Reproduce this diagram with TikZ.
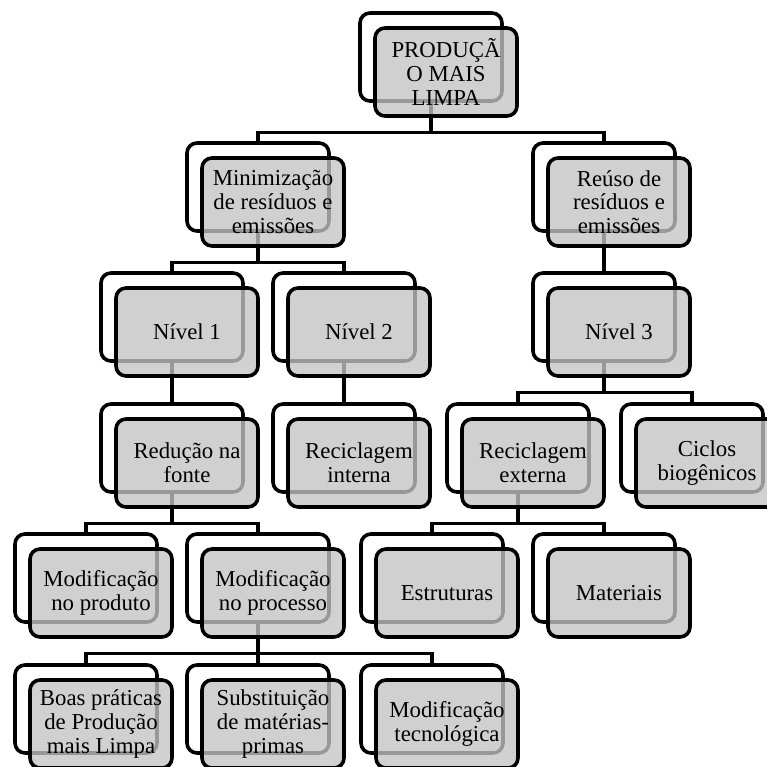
\documentclass[tikz,border=0pt]{standalone}
\usepackage{fontspec}
\setmainfont{Liberation Serif}
\usetikzlibrary{backgrounds}
\definecolor{boxgray}{RGB}{196,196,196}
\begin{document}
\begin{tikzpicture}[x=1pt, y=1pt,
        back/.style={draw, line width=3.6pt, rounded corners=10pt, fill=white,
            minimum width=142pt, minimum height=88pt, inner sep=1pt},
        front/.style={back, fill=boxgray, fill opacity=0.78, text opacity=1,
            align=center, text=black, font=\fontsize{22.8}{23.8}\selectfont},
        link/.style={line width=3.2pt}]
            \useasboundingbox (0, 0) rectangle (766, -767);
            %\draw[lightgray] (0, 0) grid[step=50] (766, -767);

            % level 1
            \node[back] (root-b) at (431, -57) {};
            \node[front] (root) at (446, -72) {PRODUÇÃ\\O MAIS\\LIMPA};

            % level 2
            \node[back] (mini-b) at (258, -187) {};
            \node[front] (mini) at (273, -202) {Minimização\\de resíduos e\\emissões};
            \node[back] (reuso-b) at (604, -187) {};
            \node[front] (reuso) at (619, -202) {Reúso de\\resíduos e\\emissões};

            % level 3
            \node[back] (niv1-b) at (172, -317) {};
            \node[front] (niv1) at (187, -332) {Nível 1};
            \node[back] (niv2-b) at (344, -317) {};
            \node[front] (niv2) at (359, -332) {Nível 2};
            \node[back] (niv3-b) at (604, -317) {};
            \node[front] (niv3) at (619, -332) {Nível 3};

            % level 4
            \node[back] (redu-b) at (172, -448) {};
            \node[front] (redu) at (187, -463) {Redução na\\fonte};
            \node[back] (recint-b) at (344, -448) {};
            \node[front] (recint) at (359, -463) {Reciclagem\\interna};
            \node[back] (recext-b) at (518, -448) {};
            \node[front] (recext) at (533, -463) {Reciclagem\\externa};
            \node[back] (ciclos-b) at (692, -448) {};
            \node[front] (ciclos) at (707, -463) {Ciclos\\biogênicos};

            % level 5
            \node[back] (modprod-b) at (86, -578) {};
            \node[front] (modprod) at (101, -593) {Modificação\\no produto};
            \node[back] (modproc-b) at (258, -578) {};
            \node[front] (modproc) at (273, -593) {Modificação\\no processo};
            \node[back] (estr-b) at (432, -578) {};
            \node[front] (estr) at (447, -593) {Estruturas};
            \node[back] (mat-b) at (604, -578) {};
            \node[front] (mat) at (619, -593) {Materiais};

            % level 6
            \node[back] (boas-b) at (86, -709) {};
            \node[front] (boas) at (101, -724) {Boas práticas\\de Produção\\mais Limpa};
            \node[back] (subst-b) at (258, -709) {};
            \node[front] (subst) at (273, -724) {Substituição\\de matérias-\\primas};
            \node[back] (modtec-b) at (432, -709) {};
            \node[front] (modtec) at (447, -724) {Modificação\\tecnológica};

            % connectors
            \begin{scope}[on background layer]
                \draw[link] (root-b.south) -- ++(0, -30) -| (mini-b.north);
                \draw[link] (root-b.south) -- ++(0, -30) -| (reuso-b.north);
                \draw[link] (mini-b.south) -- ++(0, -30) -| (niv1-b.north);
                \draw[link] (mini-b.south) -- ++(0, -30) -| (niv2-b.north);
                \draw[link] (reuso-b.south) -- (niv3-b.north);
                \draw[link] (niv1-b.south) -- (redu-b.north);
                \draw[link] (niv2-b.south) -- (recint-b.north);
                \draw[link] (niv3-b.south) -- ++(0, -30) -| (recext-b.north);
                \draw[link] (niv3-b.south) -- ++(0, -30) -| (ciclos-b.north);
                \draw[link] (redu-b.south) -- ++(0, -30) -| (modprod-b.north);
                \draw[link] (redu-b.south) -- ++(0, -30) -| (modproc-b.north);
                \draw[link] (recext-b.south) -- ++(0, -30) -| (estr-b.north);
                \draw[link] (recext-b.south) -- ++(0, -30) -| (mat-b.north);
                \draw[link] (modproc-b.south) -- ++(0, -30) -| (boas-b.north);
                \draw[link] (modproc-b.south) -- ++(0, -30) -| (subst-b.north);
                \draw[link] (modproc-b.south) -- ++(0, -30) -| (modtec-b.north);
            \end{scope}
        \end{tikzpicture}
\end{document}
